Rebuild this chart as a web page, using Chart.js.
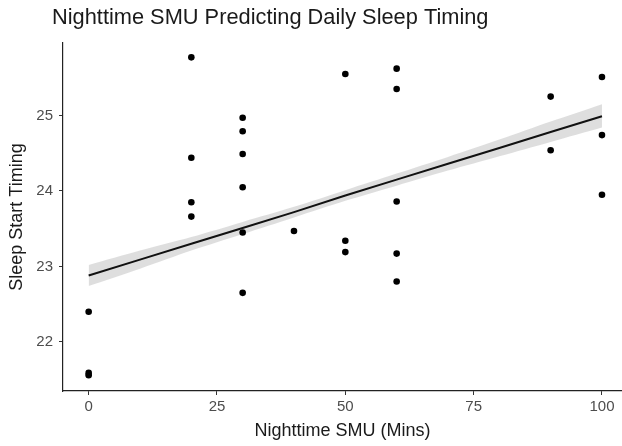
<!DOCTYPE html>
<html>
<head>
<meta charset="utf-8">
<script src="https://cdn.jsdelivr.net/npm/chart.js@4.4.1/dist/chart.umd.min.js"></script>
<style>
  html, body { margin: 0; padding: 0; background: #fff; overflow: hidden; }
  canvas { display: block; }
</style>
</head>
<body>
<canvas id="sleepChart" width="622" height="446"></canvas>
<script>
// Données
const chartTitle = "Nighttime SMU Predicting Daily Sleep Timing"
const xTitle = "Nighttime SMU (Mins)"
const yTitle = "Sleep Start Timing"

const smuMins = [0, 0, 0, 20, 20, 20, 20, 30, 30, 30, 30, 30, 30, 40, 50, 50, 50, 60, 60, 60, 60, 60, 90, 90, 100, 100, 100]
const sleepStart = [22.40, 21.59, 21.56, 25.77, 24.44, 23.85, 23.66, 24.97, 24.79, 24.49, 24.05, 23.45, 22.65, 23.47,
  25.55, 23.34, 23.19, 25.62, 25.35, 23.86, 23.17, 22.80, 25.25, 24.54, 25.51, 24.74, 23.95]

// Droite de régression et bande de confiance (estimées)
const fitX = [0, 10, 20, 30, 40, 50, 60, 70, 80, 90, 100]
const fitY = [22.88, 23.09, 23.30, 23.51, 23.72, 23.94, 24.15, 24.36, 24.57, 24.78, 24.99]
const fitUpper = [23.02, 23.21, 23.39, 23.59, 23.79, 24.01, 24.23, 24.45, 24.68, 24.92, 25.15]
const fitLower = [22.74, 22.97, 23.21, 23.43, 23.65, 23.87, 24.07, 24.27, 24.46, 24.65, 24.84]

const xTicks = [0, 25, 50, 75, 100]
const yTicks = [22, 23, 24, 25]

const FONT = "'Liberation Sans', Arial, sans-serif"

function toPoints(xs, ys) {
  return xs.map((x, i) => ({ x: x, y: ys[i] }))
}

// Titre aligné comme dans ggplot
const titlePlugin = {
  id: "plotTitle",
  afterDraw(chart) {
    const ctx = chart.ctx
    ctx.save()
    ctx.font = "21.8px " + FONT
    ctx.fillStyle = "#1a1a1a"
    ctx.textBaseline = "middle"
    ctx.textAlign = "left"
    ctx.fillText(chartTitle, 52, 18)
    ctx.restore()
  },
}

new Chart(document.getElementById("sleepChart"), {
  type: "scatter",
  data: {
    datasets: [
      {
        label: "points",
        data: toPoints(smuMins, sleepStart),
        backgroundColor: "#000",
        borderWidth: 0,
        pointRadius: 3.3,
      },
      {
        label: "fit",
        data: toPoints(fitX, fitY),
        showLine: true,
        borderColor: "#111",
        borderWidth: 2,
        pointRadius: 0,
        fill: false,
      },
      {
        label: "upper",
        data: toPoints(fitX, fitUpper),
        showLine: true,
        borderWidth: 0,
        borderColor: "rgba(0,0,0,0)",
        pointRadius: 0,
        tension: 0.3,
        backgroundColor: "rgba(153,153,153,0.32)",
        fill: "+1",
      },
      {
        label: "lower",
        data: toPoints(fitX, fitLower),
        showLine: true,
        borderWidth: 0,
        borderColor: "rgba(0,0,0,0)",
        pointRadius: 0,
        tension: 0.3,
        fill: false,
      },
    ],
  },
  options: {
    responsive: false,
    animation: false,
    events: [],
    layout: { autoPadding: false, padding: { top: 43, right: 0, left: 0, bottom: 0 } },
    plugins: {
      legend: { display: false },
      tooltip: { enabled: false },
      title: { display: false },
    },
    scales: {
      x: {
        type: "linear",
        min: -5,
        max: 103.9,
        afterBuildTicks: (scale) => { scale.ticks = xTicks.map((v) => ({ value: v })) },
        afterFit: (scale) => {
          scale.height = 55
          scale.paddingLeft = 0
          scale.paddingRight = 0
        },
        border: { display: true, color: "#222", width: 1.2 },
        grid: { drawOnChartArea: false, drawTicks: true, tickLength: 4, color: "#333" },
        ticks: { color: "#4d4d4d", font: { family: FONT, size: 15 }, padding: 3, maxRotation: 0 },
        title: { display: true, text: xTitle, color: "#1a1a1a", font: { family: FONT, size: 18 }, padding: { top: 0, bottom: 4 } },
      },
      y: {
        type: "linear",
        min: 21.35,
        max: 25.96,
        afterBuildTicks: (scale) => { scale.ticks = yTicks.map((v) => ({ value: v })) },
        afterFit: (scale) => {
          scale.width = 63
          scale.paddingTop = 0
          scale.paddingBottom = 0
        },
        border: { display: true, color: "#222", width: 1.2 },
        grid: { drawOnChartArea: false, drawTicks: true, tickLength: 4, color: "#333" },
        ticks: { color: "#4d4d4d", font: { family: FONT, size: 15 }, padding: 6 },
        title: { display: true, text: yTitle, color: "#1a1a1a", font: { family: FONT, size: 18 }, padding: { top: 6, bottom: 0 } },
      },
    },
  },
  plugins: [titlePlugin],
})
</script>
</body>
</html>
